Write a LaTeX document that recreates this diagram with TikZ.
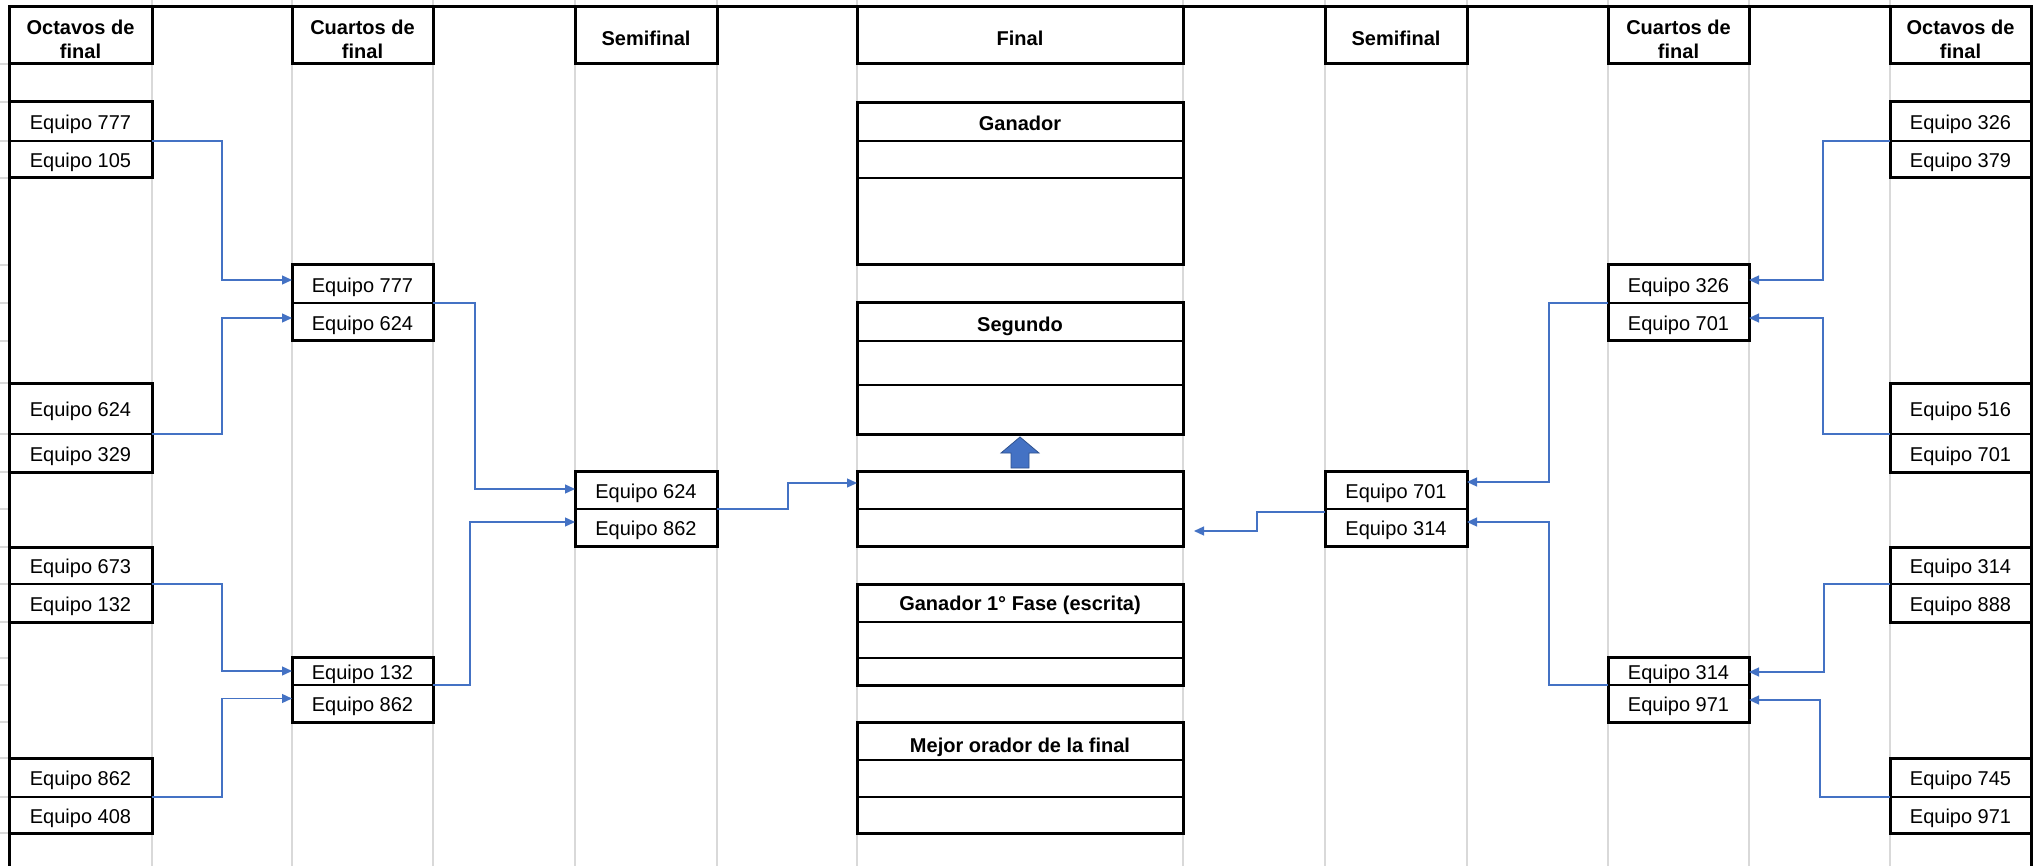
\documentclass[tikz,border=0pt]{standalone}
\usepackage{fontspec}
\setmainfont{Liberation Sans}
\usetikzlibrary{calc,arrows.meta}
\definecolor{xlblue}{HTML}{4472C4}
\definecolor{xlgrid}{HTML}{D9D9D9}
\definecolor{xledge}{HTML}{2F528F}
% [#1 text shift] #2 name, #3 x1, #4 y1, #5 x2, #6 y2, #7 text style, #8 text
\newcommand\cellnode[8][3]{%
  \node[box0,minimum width={#5-#3},minimum height={#6-#4},anchor=north west] (#2) at (#3,#4) {};
  \node[#7] (#2t) at ($(#2.center)+(0,#1)$) {#8};}
\newcommand\tpair[8]{%
  \cellnode{#1a}{#2}{#4}{#3}{#5}{cell}{#7}
  \cellnode{#1b}{#2}{#5}{#3}{#6}{cell}{#8}
  \draw[divl] (#1a.south west) -- (#1a.south east);
  \draw[frame] (#1a.north west) rectangle (#1b.south east);
}
\newcommand\hdr[5]{%
  \cellnode[#5]{#1}{#2}{7}{#3}{64}{ttl}{#4}
  \draw[frame] (#1.north west) rectangle (#1.south east);
}
\begin{document}
\begin{tikzpicture}[x=1pt,y=-1pt,
  box0/.style={inner sep=0pt,outer sep=0pt},
  cell/.style={inner sep=0pt,outer sep=0pt,font=\fontsize{20}{24}\selectfont,align=center},
  ttl/.style={cell,font=\fontsize{20}{24}\selectfont\bfseries},
  frame/.style={line width=3pt,line join=miter},
  divl/.style={line width=2pt},
  gridl/.style={xlgrid,line width=1.2pt},
  connector/.style={xlblue,line width=1.3pt,-{Triangle[length=10pt,width=9pt]}}]
\useasboundingbox (0,0) rectangle (2036,866);
\fill[white] (0,0) rectangle (2036,866);
% grid lines
\foreach \x in {152,292,433,575,717,857,1183,1325,1467,1608,1749,1890}
  \draw[gridl] (\x,0) -- (\x,866);
\foreach \y in {64,102,141,178,265,303,341,383,434,472,509,547,584,622,658,685,722,758,797,833}
  \draw[gridl] (0,\y) -- (9,\y);
% outer frame
\draw[frame] (9,866) -- (9,7) -- (2031,7) -- (2031,866);
% headers
\hdr{hOL}{9}{152}{Octavos de\\final}{4}
\hdr{hCL}{292}{433}{Cuartos de\\final}{4}
\hdr{hSL}{575}{717}{Semifinal}{3}
\hdr{hF}{857}{1183}{Final}{3}
\hdr{hSR}{1325}{1467}{Semifinal}{3}
\hdr{hCR}{1608}{1749}{Cuartos de\\final}{4}
\hdr{hOR}{1890}{2031}{Octavos de\\final}{4}
% left side
\tpair{oLA}{9}{152}{102}{141}{178}{Equipo 777}{Equipo 105}
\tpair{oLB}{9}{152}{383}{434}{472}{Equipo 624}{Equipo 329}
\tpair{oLC}{9}{152}{547}{584}{622}{Equipo 673}{Equipo 132}
\tpair{oLD}{9}{152}{758}{797}{833}{Equipo 862}{Equipo 408}
\tpair{cLA}{292}{433}{265}{303}{341}{Equipo 777}{Equipo 624}
\tpair{cLB}{292}{433}{657}{685}{722}{Equipo 132}{Equipo 862}
\tpair{sL}{575}{717}{471}{509}{546}{Equipo 624}{Equipo 862}
% right side
\tpair{oRA}{1890}{2031}{102}{141}{178}{Equipo 326}{Equipo 379}
\tpair{oRB}{1890}{2031}{383}{434}{472}{Equipo 516}{Equipo 701}
\tpair{oRC}{1890}{2031}{547}{584}{622}{Equipo 314}{Equipo 888}
\tpair{oRD}{1890}{2031}{758}{797}{833}{Equipo 745}{Equipo 971}
\tpair{cRA}{1608}{1749}{265}{303}{341}{Equipo 326}{Equipo 701}
\tpair{cRB}{1608}{1749}{657}{685}{722}{Equipo 314}{Equipo 971}
\tpair{sR}{1325}{1467}{471}{509}{546}{Equipo 701}{Equipo 314}
% final column
\tpair{fm}{857}{1183}{471}{509}{546}{}{}
\cellnode[1]{gan}{857}{103}{1183}{141}{ttl}{Ganador}
\cellnode{ganA}{857}{141}{1183}{178}{cell}{}
\cellnode{ganB}{857}{178}{1183}{265}{cell}{}
\draw[divl] (gan.south west) -- (gan.south east);
\draw[divl] (ganA.south west) -- (ganA.south east);
\draw[frame] (gan.north west) rectangle (ganB.south east);
\cellnode[4]{seg}{857}{303}{1183}{341}{ttl}{Segundo}
\cellnode{segA}{857}{341}{1183}{385}{cell}{}
\cellnode{segB}{857}{385}{1183}{434}{cell}{}
\draw[divl] (seg.south west) -- (seg.south east);
\draw[divl] (segA.south west) -- (segA.south east);
\draw[frame] (seg.north west) rectangle (segB.south east);
\cellnode[2]{gpf}{857}{584}{1183}{622}{ttl}{Ganador 1° Fase (escrita)}
\cellnode{gpfA}{857}{622}{1183}{658}{cell}{}
\cellnode{gpfB}{857}{658}{1183}{685}{cell}{}
\draw[divl] (gpf.south west) -- (gpf.south east);
\draw[divl] (gpfA.south west) -- (gpfA.south east);
\draw[frame] (gpf.north west) rectangle (gpfB.south east);
\cellnode[6]{mej}{857}{722}{1183}{760}{ttl}{Mejor orador de la final}
\cellnode{mejA}{857}{760}{1183}{797}{cell}{}
\cellnode{mejB}{857}{797}{1183}{833}{cell}{}
\draw[divl] (mej.south west) -- (mej.south east);
\draw[divl] (mejA.south west) -- (mejA.south east);
\draw[frame] (mej.north west) rectangle (mejB.south east);
% blue up arrow
\filldraw[fill=xlblue,draw=xledge,line width=0.8pt,line join=miter]
  (1011,468) -- (1011,453) -- (1001,453) -- (1020,437) -- (1039,453) -- (1029,453) -- (1029,468) -- cycle;
% connectors left
\draw[connector] (oLAa.south east) -| ($(cLAa.west)+(-70,-4)$) -- ($(cLAa.west)+(0,-4)$);
\draw[connector] (oLBa.south east) -| ($(cLAb.west)+(-70,-4)$) -- ($(cLAb.west)+(0,-4)$);
\draw[connector] (oLCa.south east) -| ($(cLBa.west)+(-70,0)$) -- (cLBa.west);
\draw[connector] (oLDa.south east) -| ($(cLBb.west)+(-70,-5)$) -- ($(cLBb.west)+(0,-5)$);
\draw[connector] (cLAa.south east) -| ($(sLa.west)+(-100,-1)$) -- ($(sLa.west)+(0,-1)$);
\draw[connector] (cLBa.south east) -| ($(sLb.west)+(-105,-5.5)$) -- ($(sLb.west)+(0,-5.5)$);
\draw[connector] (sLa.south east) -| ($(fma.west)+(-69,-7)$) -- ($(fma.west)+(0,-7)$);
% connectors right
\draw[connector] (oRAa.south west) -| ($(cRAa.east)+(74,-4)$) -- ($(cRAa.east)+(0,-4)$);
\draw[connector] (oRBa.south west) -| ($(cRAb.east)+(74,-4)$) -- ($(cRAb.east)+(0,-4)$);
\draw[connector] (oRCa.south west) -| ($(cRBa.east)+(75,1)$) -- ($(cRBa.east)+(0,1)$);
\draw[connector] (oRDa.south west) -| ($(cRBb.east)+(71,-3.5)$) -- ($(cRBb.east)+(0,-3.5)$);
\draw[connector] (cRAa.south west) -| ($(sRa.east)+(82,-8)$) -- ($(sRa.east)+(0,-8)$);
\draw[connector] (cRBa.south west) -| ($(sRb.east)+(82,-5.5)$) -- ($(sRb.east)+(0,-5.5)$);
\draw[connector] ($(sRa.south west)+(0,3)$) -| ($(fmb.east)+(74,3.5)$) -- ($(fmb.east)+(11,3.5)$);
\end{tikzpicture}
\end{document}
